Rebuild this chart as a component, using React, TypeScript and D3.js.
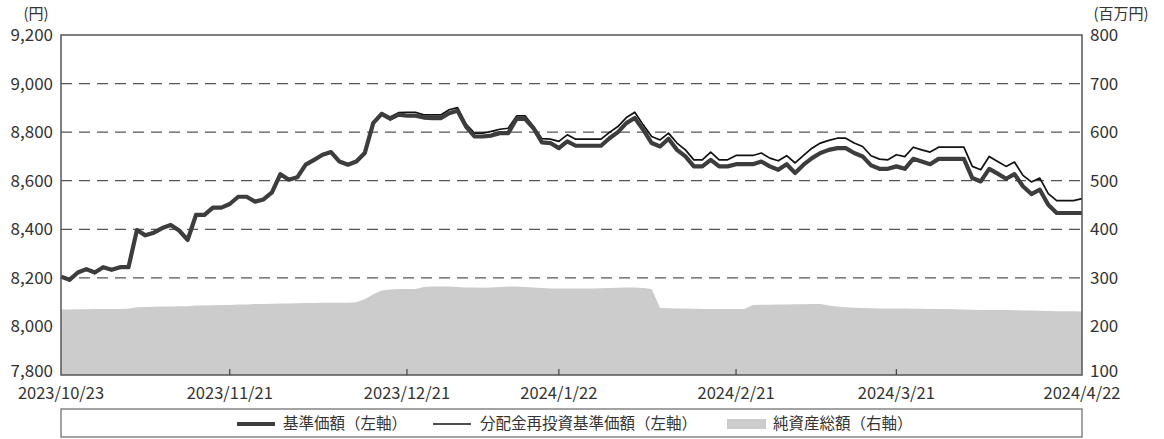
import * as d3 from "d3";

// 営業日ごとの値（2023/10/23〜2024/4/22）
const navValues = [
  8205, 8192, 8222, 8236, 8222, 8244, 8233, 8244, 8244, 8397,
  8375, 8386, 8405, 8418, 8395, 8356, 8459, 8459, 8489, 8489,
  8504, 8534, 8534, 8514, 8523, 8552, 8627, 8604, 8614, 8666,
  8686, 8707, 8718, 8679, 8666, 8679, 8714, 8837, 8875, 8855,
  8872, 8868, 8868, 8860, 8858, 8858, 8878, 8888, 8823, 8782,
  8782, 8786, 8796, 8796, 8855, 8855, 8816, 8758, 8755, 8734,
  8762, 8744, 8744, 8744, 8744, 8775, 8800, 8837, 8858, 8810,
  8755, 8741, 8773, 8727, 8700, 8659, 8659, 8686, 8659, 8659,
  8668, 8668, 8668, 8679, 8659, 8645, 8668, 8632, 8666, 8693,
  8714, 8727, 8734, 8734, 8714, 8700, 8663, 8649, 8649, 8659,
  8649, 8690, 8679, 8668, 8690, 8690, 8690, 8690, 8611, 8597,
  8649, 8629, 8608, 8627, 8577, 8545, 8563, 8501, 8467, 8467,
  8467, 8467,
];

const reinvestValues = [
  8205, 8192, 8222, 8236, 8222, 8244, 8233, 8244, 8244, 8397,
  8375, 8386, 8405, 8418, 8395, 8356, 8459, 8459, 8489, 8489,
  8504, 8534, 8534, 8514, 8523, 8552, 8627, 8604, 8614, 8666,
  8686, 8707, 8718, 8679, 8666, 8679, 8716, 8842, 8880, 8862,
  8880, 8882, 8882, 8871, 8871, 8871, 8892, 8901, 8833, 8796,
  8796, 8803, 8812, 8816, 8867, 8867, 8823, 8773, 8771, 8762,
  8789, 8771, 8771, 8771, 8771, 8799, 8823, 8860, 8882, 8830,
  8782, 8768, 8796, 8755, 8727, 8686, 8686, 8718, 8686, 8686,
  8704, 8704, 8704, 8714, 8693, 8682, 8703, 8673, 8704, 8734,
  8755, 8766, 8775, 8775, 8755, 8741, 8703, 8689, 8686, 8707,
  8699, 8738, 8727, 8718, 8738, 8738, 8738, 8738, 8659, 8645,
  8700, 8679, 8659, 8677, 8622, 8595, 8611, 8547, 8518, 8518,
  8518, 8526,
];

// 純資産総額（百万円）
const assetValues = [
  235, 235, 235.5, 235.5, 236, 236, 236, 236, 236.5, 239.5,
  240, 240.5, 241, 241, 241.5, 241.5, 243, 243, 243.5, 244,
  244, 245, 245, 246, 246, 246.5, 247, 247, 247.5, 248,
  248, 248.5, 249, 249, 249, 250, 256, 266, 274, 276,
  277, 277, 277, 281, 282, 282, 282, 281, 280, 280,
  279.5, 280, 281, 282, 282, 281, 280, 279, 278, 278,
  278, 278, 278, 278, 278.5, 279, 279.5, 280, 280, 279,
  277, 238, 237.5, 237, 237, 236.5, 236, 236, 236, 236,
  236, 236, 244, 244.5, 244.5, 245, 245, 245.5, 245.5, 246,
  246, 243, 241, 239.5, 238.5, 238, 237.5, 237, 237, 237,
  237, 236.5, 236.5, 236, 236, 236, 235.5, 235, 234.5, 234,
  234, 234, 234, 233.5, 233, 233, 232.5, 232, 231.5, 231,
  231, 230.5,
];

const dateLabels = ["2023/10/23", "2023/11/21", "2023/12/21", "2024/1/22", "2024/2/21", "2024/3/21", "2024/4/22"];
const dateIndex = [0, 20, 41, 59, 80, 99, 121];
const leftTicks = [7800, 8000, 8200, 8400, 8600, 8800, 9000, 9200];
const rightTicks = [100, 200, 300, 400, 500, 600, 700, 800];
const legendNames = ["基準価額（左軸）", "分配金再投資基準価額（左軸）", "純資産総額（右軸）"];

const W = 1164;
const H = 439;
const L = 61;
const R = 1082;
const T = 35;
const B = 375;
const FONT = "'Noto Sans CJK JP', 'Noto Sans', sans-serif";

export default function App() {
  const x = d3.scaleLinear().domain([0, navValues.length - 1]).range([L, R]);
  const yL = d3.scaleLinear().domain([7800, 9200]).range([B, T]);
  const yR = d3.scaleLinear().domain([100, 800]).range([B, T]);

  const area = d3
    .area<number>()
    .x((_, i) => x(i))
    .y0(yR(100))
    .y1((d) => yR(d));
  const line = d3
    .line<number>()
    .x((_, i) => x(i))
    .y((d) => yL(d));

  // bottom tick labels sit a little higher so they clear the date labels
  const labelY = (y: number) => Math.min(y, B - 4);

  return (
    <svg width={W} height={H} style={{ position: "absolute", left: 0, top: 0, background: "#fff" }} fontFamily={FONT}>
      {/* grid */}
      {leftTicks.slice(1, -1).map((t) => (
        <line key={t} x1={L} x2={R} y1={yL(t)} y2={yL(t)} stroke="#555" strokeWidth={1.2} strokeDasharray="11,7" />
      ))}

      <path d={area(assetValues) ?? ""} fill="#cccccc" />
      <path d={line(reinvestValues) ?? ""} fill="none" stroke="#111" strokeWidth={1.7} strokeLinejoin="round" />
      <path d={line(navValues) ?? ""} fill="none" stroke="#3d3d3d" strokeWidth={4.2} strokeLinejoin="round" />

      {/* frame */}
      <rect x={L} y={T} width={R - L} height={B - T} fill="none" stroke="#555" strokeWidth={1.5} />
      {dateIndex.slice(1, -1).map((d) => (
        <line key={d} x1={x(d)} x2={x(d)} y1={B} y2={B - 6} stroke="#444" strokeWidth={1.2} />
      ))}

      {/* left axis */}
      {leftTicks.map((t) => (
        <text key={t} x={53} y={labelY(yL(t))} dy="0.35em" textAnchor="end" fontSize={17} fill="#333">
          {d3.format(",")(t)}
        </text>
      ))}
      <text x={36} y={14} dy="0.35em" textAnchor="middle" fontSize={15} fill="#333">
        (円)
      </text>

      {/* right axis */}
      {rightTicks.map((t) => (
        <text key={t} x={1090} y={labelY(yR(t))} dy="0.35em" textAnchor="start" fontSize={17} fill="#333">
          {t}
        </text>
      ))}
      <text x={1121} y={14} dy="0.35em" textAnchor="middle" fontSize={15} fill="#333">
        (百万円)
      </text>

      {/* x axis */}
      {dateIndex.map((d, i) => (
        <text key={d} x={x(d)} y={393} dy="0.35em" textAnchor="middle" fontSize={16.5} fill="#333">
          {dateLabels[i]}
        </text>
      ))}

      {/* legend */}
      <rect x={L} y={409} width={R - L} height={28} fill="none" stroke="#666" strokeWidth={1.2} />
      <line x1={237} x2={275} y1={424} y2={424} stroke="#3d3d3d" strokeWidth={4.2} />
      <text x={283} y={424} dy="0.35em" fontSize={15.5} fill="#333">
        {legendNames[0]}
      </text>
      <line x1={433} x2={471} y1={424} y2={424} stroke="#111" strokeWidth={1.7} />
      <text x={480} y={424} dy="0.35em" fontSize={15.5} fill="#333">
        {legendNames[1]}
      </text>
      <rect x={727} y={419} width={39} height={10} fill="#cccccc" />
      <text x={773} y={424} dy="0.35em" fontSize={15.5} fill="#333">
        {legendNames[2]}
      </text>
    </svg>
  );
}
